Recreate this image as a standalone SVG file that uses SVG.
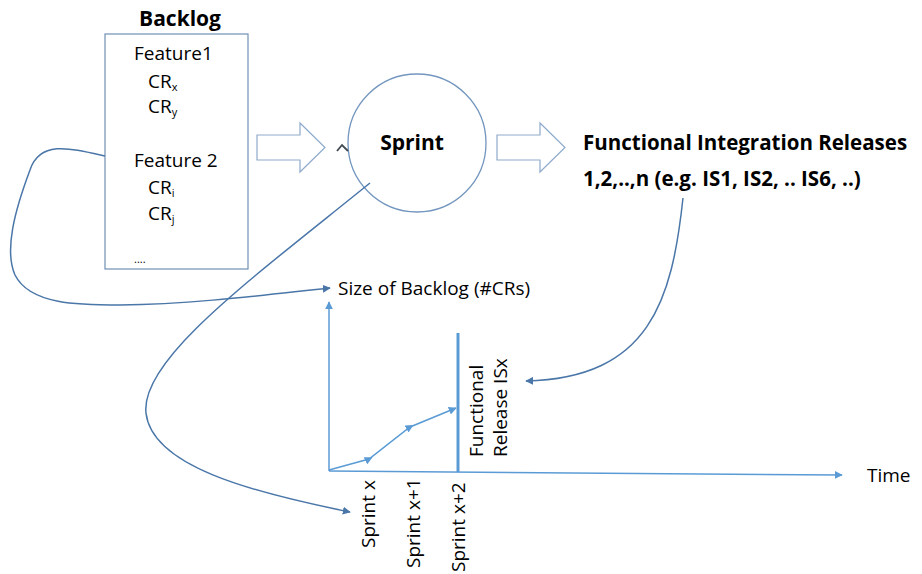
<svg xmlns="http://www.w3.org/2000/svg" width="922" height="574" viewBox="0 0 922 574">
<style>
  text { font-family: "Open Sans", "Noto Sans", "Liberation Sans", sans-serif; fill: #000; }
  .b { font-weight: bold; }
  .t { font-size: 19px; }
  .sub { font-size: 11px; }
  .curve { fill: none; stroke: #4a76a8; stroke-width: 1.5; }
  .chart { fill: none; stroke: #5b9bd5; stroke-width: 1.5; }
  .block { fill: #fff; stroke: #8eaacc; stroke-width: 1.2; }
</style>
<defs>
  <marker id="ah" viewBox="0 0 10 10" refX="9" refY="5" markerWidth="8" markerHeight="8" markerUnits="userSpaceOnUse" orient="auto">
    <path d="M0,0 L10,5 L0,10 z" fill="#4a76a8"/>
  </marker>
  <marker id="ahc" viewBox="0 0 10 10" refX="9" refY="5" markerWidth="8" markerHeight="8" markerUnits="userSpaceOnUse" orient="auto">
    <path d="M0,0 L10,5 L0,10 z" fill="#5b9bd5"/>
  </marker>
  <marker id="ahm" viewBox="0 0 10 10" refX="5" refY="5" markerWidth="8" markerHeight="8" markerUnits="userSpaceOnUse" orient="auto">
    <path d="M0,0 L10,5 L0,10 z" fill="#5b9bd5"/>
  </marker>
</defs>

<g id="backlog">
  <text x="180" y="26" class="b" font-size="21" text-anchor="middle">Backlog</text>
  <rect x="105" y="34" width="143" height="235" fill="#fff" stroke="#6f8fb5" stroke-width="1.2"/>
  <text x="134" y="60" class="t">Feature1</text>
  <text x="148" y="88" class="t">CR<tspan class="sub" dy="3">x</tspan></text>
  <text x="148" y="113" class="t">CR<tspan class="sub" dy="3">y</tspan></text>
  <text x="134" y="167" class="t">Feature 2</text>
  <text x="148" y="194" class="t">CR<tspan class="sub" dy="3">i</tspan></text>
  <text x="148" y="220" class="t">CR<tspan class="sub" dy="3">j</tspan></text>
  <text x="134" y="263" font-size="11">....</text>
</g>

<g id="arrow1">
  <path class="block" d="M257,135 L300,135 L300,123 L325,147.5 L300,172 L300,160 L257,160 Z"/>
</g>

<g id="sprint">
  <circle cx="417" cy="143" r="69" fill="#fff" stroke="#7396bf" stroke-width="1.3"/>
  <text x="412" y="150" class="b" font-size="21" text-anchor="middle">Sprint</text>
</g>

<g id="arrow2">
  <path class="block" d="M497,135 L540,135 L540,123 L565,147.5 L540,172 L540,160 L497,160 Z"/>
</g>

<g id="releases">
  <text x="583" y="150" class="b" font-size="20.5">Functional Integration Releases</text>
  <text x="583" y="186" class="b" font-size="20.5">1,2,..,n (e.g. IS1, IS2, .. IS6, ..)</text>
</g>

<g id="chart">
  <line class="chart" x1="329" y1="471" x2="329" y2="302" marker-end="url(#ahc)"/>
  <line class="chart" x1="329" y1="471" x2="842" y2="475" marker-end="url(#ahc)"/>
  <line x1="458" y1="333" x2="458" y2="472" stroke="#5b9bd5" stroke-width="3"/>
  <polyline class="chart" stroke-width="1.2" points="329,470 369,459 410,427 456,408" marker-mid="url(#ahm)" marker-end="url(#ahc)"/>
  <text x="338" y="295" class="t">Size of Backlog (#CRs)</text>
  <text x="867" y="482" class="t">Time</text>
  <text transform="translate(483,457) rotate(-90)" class="t">Functional</text>
  <text transform="translate(507,457) rotate(-90)" class="t">Release ISx</text>
  <text transform="translate(375,548) rotate(-90)" class="t">Sprint x</text>
  <text transform="translate(420,568) rotate(-90)" class="t">Sprint x+1</text>
  <text transform="translate(465,572) rotate(-90)" class="t">Sprint x+2</text>
</g>

<g id="connectors">
  <path class="curve" d="M105,156 C70,148 40,140 30,170 C15,210 4,250 15,275 C30,305 80,305 120,305 C200,304 280,293 330,288" marker-end="url(#ah)"/>
  <path class="curve" d="M370,183 C250,280 140,360 146,413 C152,466 250,492 350,512" marker-end="url(#ah)"/>
  <path class="curve" d="M683,198 C672,300 650,378 526,381" marker-end="url(#ah)"/>
  <path d="M337,151 L342,145 L348,151" fill="none" stroke="#404a55" stroke-width="1.8"/>
</g>
</svg>
